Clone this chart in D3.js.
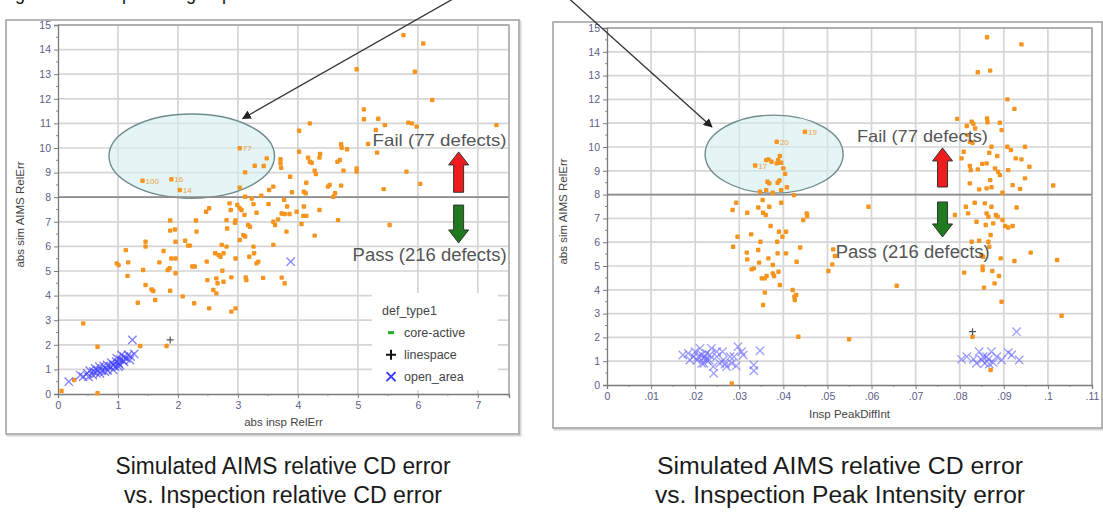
<!DOCTYPE html>
<html><head><meta charset="utf-8">
<script src="https://cdn.jsdelivr.net/npm/d3@7"></script>
<style>body{margin:0;background:#fff;} svg{display:block;}</style>
</head><body>
<svg id="chart" width="1103" height="518"></svg>
<script>
// ---------------- DATA ----------------
const yTicks = [0,1,2,3,4,5,6,7,8,9,10,11,12,13,14,15];
const leftXTicks = [0,1,2,3,4,5,6,7];
const leftXTickLabels = ["0","1","2","3","4","5","6","7"];
const rightXTicks = [0,.01,.02,.03,.04,.05,.06,.07,.08,.09,.1,.11];
const rightXTickLabels = ["0",".01",".02",".03",".04",".05",".06",".07",".08",".09",".1",".11"];
const threshold = 8;

const legendTitle = "def_type1";
const legendItems = ["core-active","linespace","open_area"];

// Left panel: abs insp RelErr vs abs sim AIMS RelErr
const leftOrange = [
[0.06,0.12],[0.27,0.57],[0.42,2.87],[0.66,1.92],[0.66,0.03],[1.37,1.95],[1.81,1.95],
[0.98,5.31],[1.01,5.24],[1.13,5.85],[1.17,5.35],[1.16,4.8],[1.33,3.71],[1.42,5.04],[1.46,4.43],[1.46,6.19],[1.46,5.99],
[1.56,4.25],[1.59,4.19],[1.62,3.82],[1.69,5.35],[1.76,5.81],[1.83,5.04],[1.86,5.11],[1.87,4.2],[1.87,7.05],[1.87,6.64],
[1.95,6.69],[1.89,5.51],[1.96,5.51],[1.96,4.91],[1.96,6.19],[2.08,3.97],[2.12,6.23],[2.17,6.03],[2.2,6.03],[2.24,5.18],
[2.28,5.18],[2.27,3.69],[2.3,7.05],[2.31,6.6],[2.47,7.41],[2.52,7.55],[2.48,5.38],[2.49,4.63],[2.52,3.48],[2.59,4.23],
[2.62,5.72],[2.64,4.09],[2.64,4.7],[2.66,4.5],[2.68,5.65],[2.71,5.58],[2.76,5.72],[2.74,5.01],[2.73,6.06],[2.76,4.56],
[2.81,5.99],[2.81,7.07],[2.82,6.73],[2.86,7.75],[2.88,7.48],[2.89,4.74],[2.89,3.35],[2.96,3.48],[2.96,5.51],[2.96,7.05],
[2.95,6.96],[2.99,7.68],[3.03,7.55],[3.06,7.48],[3.03,6.26],[3.09,6.46],[3.12,6.4],[3.11,7.28],[3.13,4.74],[3.14,4.63],
[3.17,6.87],[3.2,6.8],[3.19,5.58],[3.26,7.72],[3.26,5.99],[3.27,5.72],[3.31,5.31],[3.31,7.37],[3.34,5.38],[3.51,7.72],
[3.59,7.0],[3.62,6.87],[3.59,6.06],[3.67,7.1],[3.42,4.72],
[3.77,7.89],[3.82,7.62],[3.73,7.34],[3.78,7.32],[3.86,7.32],[3.98,7.41],[4.09,7.24],[4.14,7.24],[4.1,7.62],[4.36,7.48],
[4.67,7.07],[4.06,6.91],[3.81,6.6],[4.28,6.44],[5.53,6.87],[3.73,4.73],[3.78,4.5],
[5.76,14.59],[6.09,14.25],[4.98,13.2],[5.95,13.1],[6.24,11.95],[5.1,11.57],[5.1,11.17],[5.34,11.19],[5.45,10.93],
[5.84,11.03],[5.9,11.0],[5.98,10.87],[7.31,10.93],[4.2,11.0],[4.02,10.7],[5.3,10.73],[5.17,10.16],[4.72,10.15],
[4.73,10.01],[4.82,9.95],[5.32,9.81],[4.02,9.85],[4.37,9.76],[4.36,9.61],[4.17,9.61],[4.2,9.44],[4.23,9.4],[3.71,9.54],
[3.71,9.38],[3.72,9.2],[3.48,9.58],[3.43,9.27],[4.7,9.51],[4.66,9.44],[4.98,9.17],[4.98,9.04],[4.76,9.08],[4.28,9.08],
[4.3,8.94],[5.81,9.04],[3.87,8.83],[4.14,8.59],[4.53,8.5],[4.5,8.43],[4.72,8.47],[6.04,8.54],[5.43,8.33],[3.59,8.43],
[3.52,8.29],[4.62,8.16],[4.59,8.02],[4.1,8.22],[4.13,8.16],[3.9,8.2],[3.39,8.06],
[3.12,9.01],[3.28,9.28],[3.03,8.39],[3.12,8.02],[3.23,7.95]
];
const leftTagged = [[1.41,8.67,"100"],[1.89,8.73,"16"],[2.03,8.29,"14"],[3.03,9.99,"77"]];
const leftCross = [
[0.18,0.5],[1.24,2.2],[0.42,0.7],[0.49,0.84],[0.53,0.95],[0.59,0.91],[0.62,1.04],[0.66,0.98],[0.69,1.11],[0.73,0.95],
[0.76,1.14],[0.8,1.04],[0.82,1.18],[0.87,1.11],[0.89,1.27],[0.93,1.18],[0.97,1.31],[1.01,1.25],[1.03,1.41],[1.08,1.36],
[1.1,1.52],[1.14,1.45],[1.17,1.59],[1.21,1.52],[1.27,1.63],[0.37,0.77],[0.7,0.84],[0.64,0.84],[0.78,0.91],[0.95,1.11],
[1.03,1.18],[1.1,1.31],[1.2,1.38],[0.51,0.7],[0.58,0.77],[0.83,0.95],[0.92,0.98],[1.01,1.11],[1.06,1.59],[0.98,1.45],
[3.88,5.38]
];
const leftPlus = [[1.87,2.2]];

// Right panel: Insp PeakDiffInt vs abs sim AIMS RelErr
const rightOrange = [
[.0285,7.35],[.0293,7.66],[.0296,6.23],[.0286,5.81],[.0318,7.24],[.0317,5.56],[.0318,5.28],[.0327,6.33],[.0328,4.86],
[.0333,4.9],[.0343,5.67],[.0345,5.14],[.0348,6.02],[.0343,7.46],[.0353,7.77],[.0354,7.24],[.036,7.14],[.0368,7.49],
[.0351,4.48],[.0358,4.48],[.0362,4.58],[.0358,3.88],[.0354,3.36],[.0366,5.32],[.0371,6.68],[.0376,5.04],[.0376,4.69],
[.0379,4.58],[.0386,6.02],[.0387,5.53],[.0389,4.76],[.039,6.44],[.0392,4.2],[.0395,7.66],[.0398,6.23],[.0406,6.44],
[.0406,5.53],[.0421,3.99],[.0425,3.71],[.0429,3.78],[.0426,3.57],[.043,5.18],[.0438,5.78],[.0434,2.03],[.0445,6.93],
[.0453,7.21],[.0454,7.1],[.0283,0.07],
[.0361,9.45],[.0366,9.48],[.0373,9.38],[.0385,9.31],[.0388,9.45],[.0392,9.62],[.0395,9.34],[.04,9.1],[.0404,8.87],
[.0364,8.54],[.0368,8.47],[.0387,8.5],[.0391,8.59],[.0408,8.31],[.0347,8.12],[.0361,8.19],[.0376,8.08],[.0395,8.19],
[.0424,7.98],
[.0862,14.61],[.094,14.31],[.0841,13.14],[.0869,13.21],[.0908,12.0],[.0924,11.6],[.0794,11.18],[.0827,11.06],
[.0831,10.97],[.0862,11.2],[.0863,11.04],[.0891,11.02],[.0895,10.71],[.0816,10.88],[.0835,10.78],[.0818,10.5],
[.0823,10.22],[.0829,10.18],[.0872,10.01],[.0908,10.01],[.0916,9.87],[.0948,10.01],[.0809,9.8],[.0804,9.52],
[.0867,9.76],[.0885,9.62],[.0927,9.52],[.094,9.48],[.0958,9.17],[.0823,9.2],[.0825,9.03],[.0841,9.06],[.0851,9.29],
[.0861,9.31],[.088,9.1],[.0887,8.96],[.0891,8.82],[.091,9.03],[.0948,8.68],[.0869,8.61],[.0823,8.47],[.092,8.4],
[.0937,8.24],[.1012,8.38],[.0844,8.22],[.0861,8.26],[.0872,8.31],[.0897,8.08],
[.0593,7.49],[.0789,7.14],[.0814,7.49],[.0819,7.21],[.0834,7.66],[.0838,6.86],[.0857,7.63],[.0861,7.21],[.0865,7.07],
[.0859,6.72],[.0872,7.49],[.0882,7.14],[.0886,7.07],[.0876,6.79],[.0897,6.93],[.0903,6.68],[.091,6.62],[.092,6.68],
[.0929,7.46],[.0827,6.02],[.0844,6.06],[.0865,6.02],[.087,6.3],[.0867,5.81],[.0849,5.46],[.0853,5.39],[.0893,5.32],
[.0924,5.21],[.0961,5.56],[.1021,5.25],[.0852,4.97],[.0852,4.83],[.0874,4.79],[.0889,4.58],[.081,4.72],[.0879,4.27],
[.0855,4.09],[.0895,3.5],[.1031,2.91],[.0657,4.17],[.0549,1.92],[.0513,5.7],[.0517,5.42],[.0511,5.07],[.0502,4.79],
[.0829,2.03],[.087,0.63]
];
const rightTagged = [[.0449,10.64,"19"],[.0385,10.22,"20"],[.0336,9.22,"17"]];
const rightCross = [
[.0172,1.26],[.0188,1.05],[.02,1.4],[.0207,1.19],[.0211,1.54],[.0218,1.12],[.022,0.91],[.0226,1.33],[.0232,1.05],
[.0237,1.54],[.0241,0.77],[.0242,0.49],[.0249,1.19],[.0256,0.91],[.0262,1.4],[.0264,1.05],[.0268,0.88],[.0271,0.77],
[.0283,0.91],[.0288,1.19],[.0293,0.8],[.0297,1.61],[.0305,1.4],[.0309,1.26],[.0333,0.84],[.0333,0.6],[.0347,1.44],
[.0204,1.05],[.0215,0.91],[.0226,1.05],[.0233,1.26],[.0249,1.4],[.0184,1.33],[.0196,1.19],[.0279,1.19],[.0215,1.26],
[.0222,1.19],
[.0804,1.08],[.0816,1.19],[.0838,0.91],[.0844,1.4],[.085,1.05],[.0857,0.91],[.0865,1.08],[.0872,1.4],[.0876,0.94],
[.0884,1.19],[.0895,1.05],[.091,1.36],[.0918,1.26],[.0935,1.05],[.0929,2.24],[.0861,1.19],[.0867,0.88],[.0853,1.19],
[.0831,1.08]
];
const rightPlus = [[.0829,2.24]];

const failLabel = "Fail (77 defects)";
const passLabel = "Pass (216 defects)";
const captionsLeft = ["Simulated AIMS relative CD error","vs. Inspection relative CD error"];
const captionsRight = ["Simulated AIMS relative CD error","vs. Inspection Peak Intensity error"];
const topText = "Figure 6: Example of a group";

// ---------------- DRAWING ----------------
const FONT = "'Liberation Sans', Arial, Helvetica, sans-serif";
const NARROW = "'Liberation Sans Narrow', 'Arial Narrow', 'Liberation Sans', Arial, sans-serif";
const ORANGE = "#f5941f";
const svg = d3.select("#chart");

const defs = svg.append("defs");
defs.append("marker").attr("id","ah").attr("viewBox","0 0 10 10").attr("refX",9).attr("refY",5)
  .attr("markerWidth",9).attr("markerHeight",9).attr("markerUnits","userSpaceOnUse").attr("orient","auto")
  .append("path").attr("d","M0,0 L10,5 L0,10 z").attr("fill","#222");

// text cut off by the top edge of the picture (only its descenders show, as in the reference)
svg.append("text").attr("x",0).attr("y",-0.5).attr("font-family",FONT).attr("font-size",18)
  .attr("fill","#111").text(topText);

function blockArrow(g, cx, yTail, yTip, fill) {
  const dir = Math.sign(yTip - yTail);
  const hb = yTip - dir*13;
  const pts = [[cx-5,yTail],[cx+5,yTail],[cx+5,hb],[cx+10,hb],[cx,yTip],[cx-10,hb],[cx-5,hb]];
  g.append("path").attr("d","M"+pts.map(p=>p.join(",")).join("L")+"Z")
    .attr("fill",fill).attr("stroke","#333").attr("stroke-width",1);
}

function crossPath(x,y,s){ return `M${x-s},${y-s}L${x+s},${y+s}M${x-s},${y+s}L${x+s},${y-s}`; }
function plusPath(x,y,s){ return `M${x-s},${y}L${x+s},${y}M${x},${y-s}L${x},${y+s}`; }

function panel(c) {
  const g = svg.append("g");
  // outer frame
  g.append("rect").attr("x",c.frame[0]+1.5).attr("y",c.frame[1]+1.5).attr("width",c.frame[2]).attr("height",c.frame[3])
    .attr("fill","none").attr("stroke","#d6d6d6").attr("stroke-width",2);
  g.append("rect").attr("x",c.frame[0]).attr("y",c.frame[1]).attr("width",c.frame[2]).attr("height",c.frame[3])
    .attr("fill","#fff").attr("stroke","#a4a4a4").attr("stroke-width",1.6);

  const x = d3.scaleLinear().domain(c.xDomain).range(c.xRange);
  const y = d3.scaleLinear().domain([0,15]).range(c.yRange);
  const [x0,x1] = c.xRange, [y0,y1] = c.yRange;

  // grid
  g.append("g").selectAll("line").data(c.xTicks.slice(1)).join("line")
    .attr("x1",d=>x(d)).attr("x2",d=>x(d)).attr("y1",y0).attr("y2",y1)
    .attr("stroke","#d5d5d5").attr("stroke-width",1.7);
  g.append("g").selectAll("line").data(yTicks.slice(1)).join("line")
    .attr("x1",x0).attr("x2",x1).attr("y1",d=>y(d)).attr("y2",d=>y(d))
    .attr("stroke","#d5d5d5").attr("stroke-width",1.7);

  // legend background (covers grid)
  if (c.legend) {
    g.append("rect").attr("x",x1-137).attr("y",y(4.1)).attr("width",126).attr("height",97).attr("fill","#fff");
  }

  // ellipse
  const e = c.ellipse;
  g.append("ellipse").attr("cx",x(e[0])).attr("cy",y(e[1]))
    .attr("rx",x(e[0]+e[2])-x(e[0])).attr("ry",y(e[1])-y(e[1]+e[3]))
    .attr("fill","#d3ecec").attr("fill-opacity",0.6).attr("stroke","#6f8c8c").attr("stroke-width",1.4);

  // threshold
  g.append("line").attr("x1",x0).attr("x2",x1).attr("y1",y(threshold)).attr("y2",y(threshold))
    .attr("stroke","#8c8c8c").attr("stroke-width",1.7);

  // plot border top/right
  g.append("path").attr("d",`M${x0},${y1}L${x1},${y1}L${x1},${y0}`).attr("fill","none")
    .attr("stroke","#a0a0a0").attr("stroke-width",1.5);

  // axes
  const ya = g.append("g").attr("transform",`translate(${x0},0)`)
    .call(d3.axisLeft(y).tickValues(yTicks).tickSize(4).tickPadding(3));
  const xa = g.append("g").attr("transform",`translate(0,${y0})`)
    .call(d3.axisBottom(x).tickValues(c.xTicks).tickFormat((d,i)=>c.xTickLabels[i]).tickSize(4).tickPadding(4));
  [ya,xa].forEach(a=>{
    a.selectAll("path.domain").attr("stroke","#7a7a7a").attr("stroke-width",1.3);
    a.selectAll(".tick line").attr("stroke","#7a7a7a");
    a.selectAll("text").attr("font-family",FONT).attr("font-size",10.5).attr("fill","#5d5d88");
  });
  // minor ticks
  const yMinor = yTicks.slice(0,-1).map(d=>d+0.5);
  g.append("g").selectAll("line").data(yMinor).join("line")
    .attr("x1",x0-2).attr("x2",x0).attr("y1",d=>y(d)).attr("y2",d=>y(d)).attr("stroke","#8a8a8a");
  const step = c.xTicks[1]-c.xTicks[0];
  const xMinor = c.xTicks.map(d=>d+step/2).filter(d=>d<c.xDomain[1]);
  g.append("g").selectAll("line").data(xMinor).join("line")
    .attr("x1",d=>x(d)).attr("x2",d=>x(d)).attr("y1",y0).attr("y2",y0+2).attr("stroke","#8a8a8a");

  // axis labels
  g.append("text").attr("x",(x0+x1)/2).attr("y",c.xLabelY).attr("text-anchor","middle")
    .attr("font-family",FONT).attr("font-size",11.5).attr("fill","#444").text(c.xLabel);
  g.append("text").attr("transform",`translate(${c.yLabelX},${(y0+y1)/2+5}) rotate(-90)`).attr("text-anchor","middle")
    .attr("font-family",FONT).attr("font-size",11.5).attr("fill","#444").text("abs sim AIMS RelErr");

  // points
  const allOrange = c.orange.concat(c.tagged.map(d=>[d[0],d[1]]));
  g.append("g").selectAll("rect").data(allOrange).join("rect")
    .attr("x",d=>x(d[0])-2.2).attr("y",d=>y(d[1])-2.2).attr("width",4.4).attr("height",4.4).attr("rx",1)
    .attr("fill",ORANGE);
  g.append("g").selectAll("text").data(c.tagged).join("text")
    .attr("x",d=>x(d[0])+3).attr("y",d=>y(d[1])+3).attr("font-family",FONT).attr("font-size",8)
    .attr("fill","#e9a040").text(d=>d[2]);
  g.append("g").selectAll("path").data(c.cross).join("path")
    .attr("d",d=>crossPath(x(d[0]),y(d[1]),4.2)).attr("stroke",c.crossColor).attr("stroke-opacity",0.65)
    .attr("stroke-width",1.3).attr("fill","none");
  g.append("g").selectAll("path").data(c.plus).join("path")
    .attr("d",d=>plusPath(x(d[0]),y(d[1]),3.5)).attr("stroke","#555").attr("stroke-width",1.2);

  // Fail / Pass annotations
  const fa = c.fail;
  g.append("text").attr("x",x(fa.x)).attr("y",y(fa.y)).attr("text-anchor","end").attr("font-family",FONT)
    .attr("font-size",16.5).attr("fill","#555").attr("textLength",fa.w).attr("lengthAdjust","spacingAndGlyphs").text(failLabel);
  const pa = c.pass;
  g.append("text").attr("x",x(pa.x)).attr("y",y(pa.y)).attr("text-anchor","end").attr("font-family",FONT)
    .attr("font-size",17.5).attr("fill","#555").attr("textLength",pa.w).attr("lengthAdjust","spacingAndGlyphs").text(passLabel);
  blockArrow(g, x(c.arrowX), y(c.red[0]), y(c.red[1]), "#ee1c1c");
  blockArrow(g, x(c.arrowX), y(c.green[0]), y(c.green[1]), "#1f7a1f");

  // legend
  if (c.legend) {
    const lx = x1-127, ly = y(4.1);
    g.append("text").attr("x",lx).attr("y",ly+22).attr("font-family",FONT).attr("font-size",12.5).attr("fill","#444").text(legendTitle);
    legendItems.forEach((t,i)=>{
      const yy = ly+44+i*22;
      g.append("text").attr("x",lx+22).attr("y",yy).attr("font-family",FONT).attr("font-size",12.5).attr("fill","#444").text(t);
      const mx = lx+9, my = yy-4.5;
      if (i===0) g.append("rect").attr("x",mx-3).attr("y",my-1.5).attr("width",6).attr("height",3).attr("fill","#22b022");
      if (i===1) g.append("path").attr("d",plusPath(mx,my,5)).attr("stroke","#111").attr("stroke-width",2);
      if (i===2) g.append("path").attr("d",crossPath(mx,my,4.5)).attr("stroke","#3a3aff").attr("stroke-width",2);
    });
  }

  // annotation pointer line
  const an = c.pointer;
  g.append("line").attr("x1",x(an[0])).attr("y1",y(an[1])).attr("x2",x(an[2])).attr("y2",y(an[3]))
    .attr("stroke","#333").attr("stroke-width",1.3).attr("marker-end","url(#ah)");

  // captions
  c.captions.forEach((t,i)=>{
    svg.append("text").attr("x",c.capX).attr("y",474+i*29).attr("text-anchor","middle")
      .attr("font-family",NARROW).attr("font-size",23).attr("fill","#1a1a1a")
      .attr("textLength",c.capW[i]).attr("lengthAdjust","spacingAndGlyphs").text(t);
  });
}

panel({
  frame:[6,20,513,414], xDomain:[0,7.52], xRange:[58,509], yRange:[394,25],
  xTicks:leftXTicks, xTickLabels:leftXTickLabels, xLabel:"abs insp RelErr", xLabelY:426, yLabelX:24,
  ellipse:[2.23,9.67,1.38,1.71], orange:leftOrange, tagged:leftTagged, cross:leftCross, crossColor:"#3c3cff", plus:leftPlus,
  fail:{x:7.48,y:10.1,w:134}, pass:{x:7.48,y:5.4,w:154}, arrowX:6.68, red:[8.2,9.84], green:[7.68,6.14],
  legend:true, pointer:[6.58,16.05,3.08,11.2],
  captions:captionsLeft, capX:283, capW:[335,318]
});
panel({
  frame:[553,22,549,406], xDomain:[0,0.11], xRange:[607,1092], yRange:[385,28],
  xTicks:rightXTicks, xTickLabels:rightXTickLabels, xLabel:"Insp PeakDiffInt", xLabelY:418, yLabelX:567,
  ellipse:[0.0379,9.7,0.01565,1.64], orange:rightOrange, tagged:rightTagged, cross:rightCross, crossColor:"#6a6aff", plus:rightPlus,
  fail:{x:0.0864,y:10.22,w:131}, pass:{x:0.0868,y:5.32,w:154}, arrowX:0.0761, red:[8.32,9.96], green:[7.69,6.22],
  legend:false, pointer:[-0.0084,16.2,0.0238,10.84],
  captions:captionsRight, capX:840, capW:[366,370]
});
</script>
</body></html>
